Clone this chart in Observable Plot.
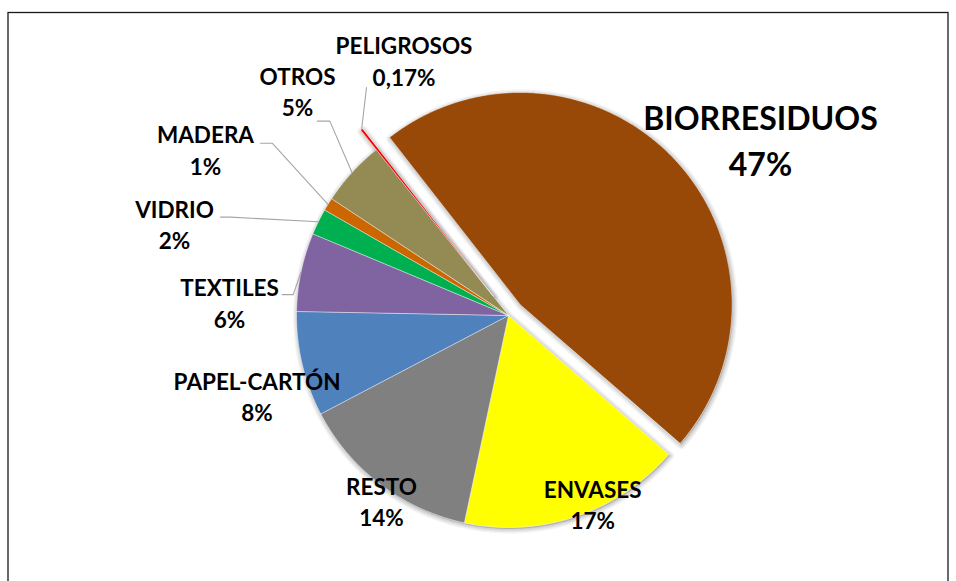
<!DOCTYPE html>
<html>
<head>
<meta charset="utf-8">
<script src="https://cdn.jsdelivr.net/npm/d3@7"></script>
<script src="https://cdn.jsdelivr.net/npm/@observablehq/plot@0.6"></script>
<style>
  body { margin: 0; background: #fff; }
  #chart svg { display: block; }
</style>
</head>
<body>
<div id="chart"></div>
<script>
// ---- data ----
const categories = ["BIORRESIDUOS", "ENVASES", "RESTO", "PAPEL-CARTÓN", "TEXTILES", "VIDRIO", "MADERA", "OTROS", "PELIGROSOS"];
const values = [47, 17, 14, 8, 6, 2, 1, 5, 0.17];
const valueLabels = ["47%", "17%", "14%", "8%", "6%", "2%", "1%", "5%", "0,17%"];
const colors = ["#984807", "#FFFF00", "#808080", "#4F81BD", "#8064A2", "#00B050", "#CC6600", "#948A54", "#FF0000"];

// ---- layout (not data) ----
const W = 956, H = 581;
const CX = 508, CY = 315, R = 212, START_DEG = -38;
const explode = {"BIORRESIDUOS": 16, "PELIGROSOS": 25};
// label placement in polar form around the pie centre (degrees clockwise from north, radius px)
const labelLayout = {
  "BIORRESIDUOS": {angle: 55.2, r: 306.8, big: true},
  "ENVASES":      {angle: 156.1, r: 207.7},
  "RESTO":        {angle: 214.2, r: 226},
  "PAPEL-CARTÓN": {angle: 252.0, r: 264.4},
  "TEXTILES":     {angle: 272.4, r: 279.2, leader: [52.7, -9.2], elbow: 11},
  "VIDRIO":       {angle: 285.1, r: 345.9, leader: [46, -8.3], elbow: 10},
  "MADERA":       {angle: 298.5, r: 344.8, leader: [55, -7.8], elbow: 11.7},
  "OTROS":        {angle: 316.6, r: 307, leader: [19.7, 28.7], elbow: 12.6},
  "PELIGROSOS":   {angle: 337.6, r: 274.2, leader: [-37.5, 25.5], elbow: 0}
};

const rad = Math.PI / 180;
const rows = categories.map((name, i) => ({name, value: values[i], label: valueLabels[i], color: colors[i]}));
const pie = d3.pie().sort(null).value(d => d.value)
  .startAngle(START_DEG * rad).endAngle(START_DEG * rad + 2 * Math.PI);
const arcs = pie(rows);

function wedge(key, color, a0, a1, e, out) {
  const mid = (a0 + a1) / 2;
  const ox = CX + e * Math.sin(mid), oy = CY - e * Math.cos(mid);
  out.push({name: key, color, x: ox, y: oy});
  const n = Math.max(2, Math.ceil((a1 - a0) / (0.5 * rad)));
  for (let k = 0; k <= n; k++) {
    const t = a0 + (a1 - a0) * k / n;
    out.push({name: key, color, x: ox + R * Math.sin(t), y: oy - R * Math.cos(t)});
  }
  return [ox, oy];
}

const slicePts = [];
const outerMid = {};
arcs.forEach(a => {
  const name = a.data.name;
  const mid = (a.startAngle + a.endAngle) / 2;
  const [ox, oy] = wedge(name, a.data.color, a.startAngle, a.endAngle, explode[name] || 0, slicePts);
  outerMid[name] = [ox + R * Math.sin(mid), oy - R * Math.cos(mid)];
});

// shadow outlines: exploded slices on their own, the rest as one body
const shadowPts = [];
const groups = d3.groups(arcs, a => explode[a.data.name] ? a.data.name : "body");
groups.forEach(([key, list]) => {
  const a0 = d3.min(list, a => a.startAngle), a1 = d3.max(list, a => a.endAngle);
  wedge(key, "black", a0, a1, explode[key] || 0, shadowPts);
});

const labels = rows.map(d => {
  const L = labelLayout[d.name];
  return {
    name: d.name,
    text: d.name + "\n" + d.label,
    big: !!L.big,
    x: CX + L.r * Math.sin(L.angle * rad),
    y: CY - L.r * Math.cos(L.angle * rad)
  };
});

const leaderPts = [];
labels.forEach(l => {
  const L = labelLayout[l.name];
  if (!L.leader) return;
  const sx = l.x + L.leader[0], sy = l.y + L.leader[1];
  leaderPts.push({name: l.name, x: sx, y: sy});
  if (L.elbow) leaderPts.push({name: l.name, x: sx + L.elbow, y: sy});
  const [ex, ey] = outerMid[l.name];
  leaderPts.push({name: l.name, x: ex, y: ey});
});

const font = "Lato, 'Open Sans', sans-serif";

const chart = Plot.plot({
  width: W,
  height: H,
  margin: 0,
  x: {type: "identity", axis: null},
  y: {type: "identity", axis: null},
  color: {type: "identity"},
  marks: [
    Plot.frame({insetLeft: 7.5, insetTop: 12, insetRight: 8.5, insetBottom: -20, stroke: "#1a1a1a", strokeWidth: 1.3}),
    ...[9, 6.5, 4.5, 2.5].map(w => Plot.line(shadowPts, {x: "x", y: "y", z: "name", curve: "linear-closed",
      fill: "black", fillOpacity: 0.04, stroke: "black", strokeOpacity: 0.045, strokeWidth: w,
      strokeLinejoin: "round", dx: 1, dy: 1.5})),
    Plot.line(slicePts, {x: "x", y: "y", z: "name", fill: "color", curve: "linear-closed",
      stroke: "white", strokeWidth: 0.6, strokeOpacity: 0.8}),
    Plot.line(leaderPts, {x: "x", y: "y", z: "name", stroke: "#A6A6A6", strokeWidth: 1.1}),
    Plot.text(labels.filter(d => !d.big), {x: "x", y: "y", text: "text", fontSize: 22.5, fontWeight: "bold",
      fontFamily: font, lineHeight: 1.4, lineAnchor: "middle", textAnchor: "middle", fill: "black", dy: -2}),
    Plot.text(labels.filter(d => d.big), {x: "x", y: "y", text: "text", fontSize: 32, fontWeight: "bold",
      fontFamily: font, lineHeight: 1.42, lineAnchor: "middle", textAnchor: "middle", fill: "black", dy: -2})
  ]
});
document.getElementById("chart").appendChild(chart);
</script>
</body>
</html>
